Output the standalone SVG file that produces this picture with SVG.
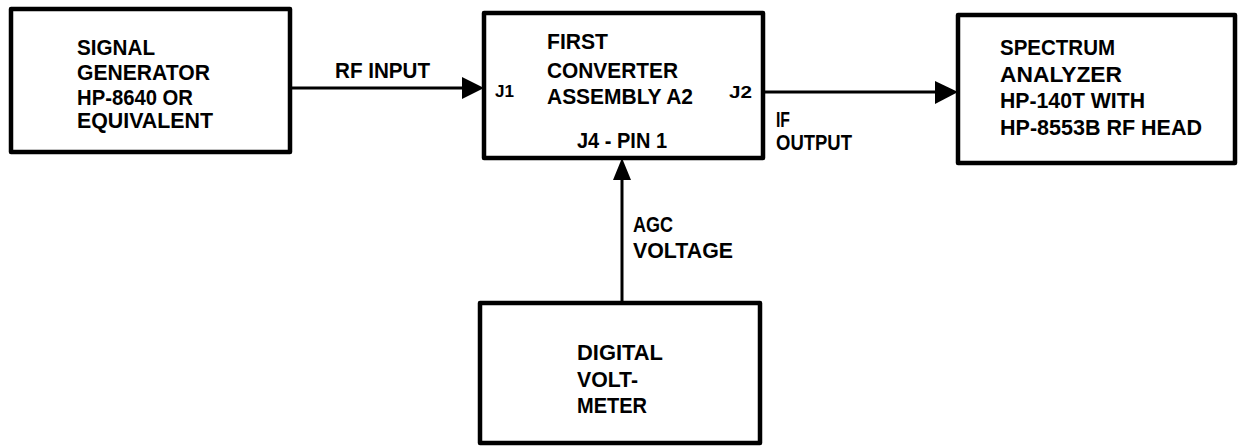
<svg xmlns="http://www.w3.org/2000/svg" width="1238" height="447" viewBox="0 0 1238 447">
<style>
.box{fill:none;stroke:#000;stroke-width:4.5;stroke-linejoin:round}
.wire{stroke:#000;stroke-width:3;fill:none}
.head{fill:#000;stroke:none}
text{font-family:"Liberation Sans",Arial,sans-serif;font-weight:bold;font-size:22px;fill:#000}
.sm{font-size:17px}
</style>
<rect width="1238" height="447" fill="#fff"/>
<g id="connectors">
<line class="wire" x1="290" y1="88" x2="464" y2="88"/>
<polygon class="head" points="462,77 484,88 462,99"/>
<text x="335" y="78" textLength="95" lengthAdjust="spacingAndGlyphs">RF INPUT</text>
<line class="wire" x1="763" y1="92" x2="937" y2="92"/>
<polygon class="head" points="935,81 958,92 935,104"/>
<text x="776" y="127" textLength="14" lengthAdjust="spacingAndGlyphs">IF</text>
<text x="776" y="150" textLength="76" lengthAdjust="spacingAndGlyphs">OUTPUT</text>
<line class="wire" x1="622" y1="303" x2="622" y2="178"/>
<polygon class="head" points="613,180 622,158 631,180"/>
<text x="633" y="232" textLength="40" lengthAdjust="spacingAndGlyphs">AGC</text>
<text x="633" y="258" textLength="100" lengthAdjust="spacingAndGlyphs">VOLTAGE</text>
</g>
<g id="signal-generator">
<rect class="box" x="11" y="9" width="279" height="143"/>
<text x="77" y="55" textLength="78" lengthAdjust="spacingAndGlyphs">SIGNAL</text>
<text x="77" y="80" textLength="133" lengthAdjust="spacingAndGlyphs">GENERATOR</text>
<text x="77" y="105" textLength="116" lengthAdjust="spacingAndGlyphs">HP-8640 OR</text>
<text x="77" y="128" textLength="136" lengthAdjust="spacingAndGlyphs">EQUIVALENT</text>
</g>
<g id="first-converter">
<rect class="box" x="484" y="13" width="279" height="145"/>
<text x="547" y="49" textLength="61" lengthAdjust="spacingAndGlyphs">FIRST</text>
<text x="547" y="78" textLength="131" lengthAdjust="spacingAndGlyphs">CONVERTER</text>
<text x="547" y="104" textLength="146" lengthAdjust="spacingAndGlyphs">ASSEMBLY A2</text>
<text class="sm" x="495" y="97" textLength="19" lengthAdjust="spacingAndGlyphs">J1</text>
<text class="sm" x="729" y="98" textLength="23" lengthAdjust="spacingAndGlyphs">J2</text>
<text x="577" y="148" textLength="90" lengthAdjust="spacingAndGlyphs">J4 - PIN 1</text>
</g>
<g id="spectrum-analyzer">
<rect class="box" x="958" y="15" width="277" height="148"/>
<text x="1000" y="55" textLength="115" lengthAdjust="spacingAndGlyphs">SPECTRUM</text>
<text x="1000" y="82" textLength="122" lengthAdjust="spacingAndGlyphs">ANALYZER</text>
<text x="1000" y="108" textLength="145" lengthAdjust="spacingAndGlyphs">HP-140T WITH</text>
<text x="1000" y="135" textLength="202" lengthAdjust="spacingAndGlyphs">HP-8553B RF HEAD</text>
</g>
<g id="digital-voltmeter">
<rect class="box" x="480" y="303" width="280" height="140"/>
<text x="577" y="360" textLength="86" lengthAdjust="spacingAndGlyphs">DIGITAL</text>
<text x="577" y="387" textLength="61" lengthAdjust="spacingAndGlyphs">VOLT-</text>
<text x="577" y="413" textLength="70" lengthAdjust="spacingAndGlyphs">METER</text>
</g>
</svg>
